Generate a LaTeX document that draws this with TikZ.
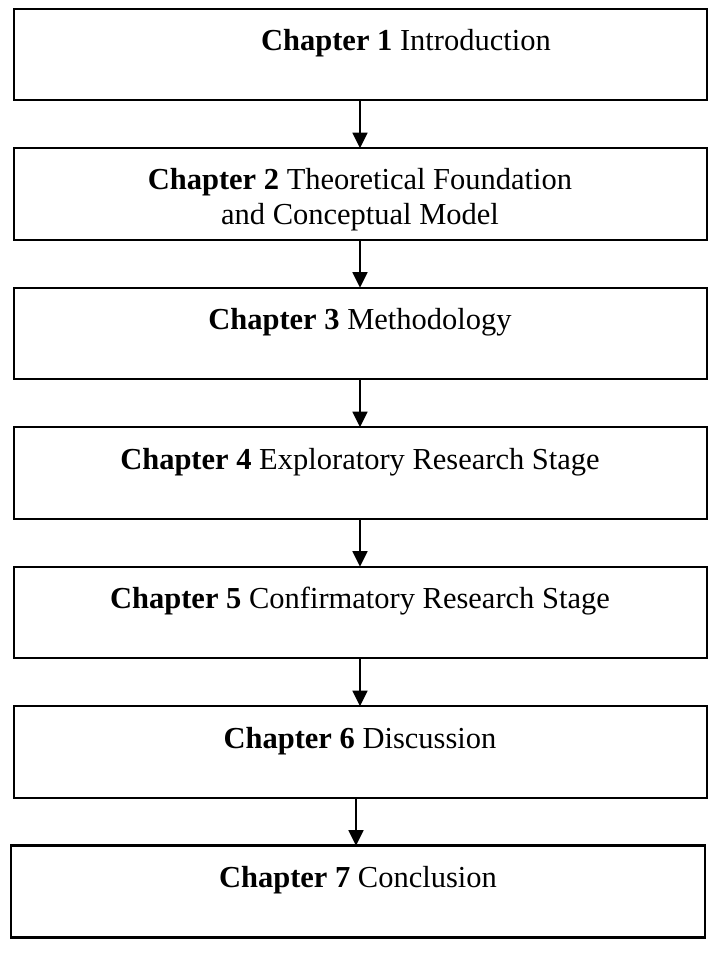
\documentclass[tikz,border=0pt]{standalone}
\usepackage{fontspec}
\setmainfont{Liberation Serif}
\usetikzlibrary{arrows.meta}
\begin{document}
\begin{tikzpicture}[x=1pt,y=-1pt,
  chbox/.style={draw=black,line width=2pt,minimum width=693pt,minimum height=91.7pt,
                inner sep=0pt,outer sep=0pt},
  chtext/.style={anchor=base,inner sep=0pt,font=\fontsize{30.5}{35.4}\selectfont},
  flow/.style={line width=1.7pt,-{Triangle[width=15pt,length=15.5pt]}}]
\useasboundingbox (0,0) rectangle (720,965);

% chapter frames
\node[chbox] (c1) at (360,54.55) {};
\node[chbox] (c2) at (360,194.05) {};
\node[chbox] (c3) at (360,333.55) {};
\node[chbox] (c4) at (360,473.05) {};
\node[chbox] (c5) at (360,612.55) {};
\node[chbox] (c6) at (360,752.05) {};
\node[chbox,line width=2.5pt,minimum width=694pt] (c7) at (358,891.55) {};

% chapter titles
\node[chtext] (t1) at (406,50.7) {\textbf{Chapter 1} Introduction};
\node[chtext] (t2a) at (360,189.4) {\textbf{Chapter 2} Theoretical Foundation};
\node[chtext] (t2b) at (360,224.8) {and Conceptual Model};
\node[chtext] (t3) at (360,329.7) {\textbf{Chapter 3} Methodology};
\node[chtext] (t4) at (360,469.2) {\textbf{Chapter 4} Exploratory Research Stage};
\node[chtext] (t5) at (360,608.7) {\textbf{Chapter 5} Confirmatory Research Stage};
\node[chtext] (t6) at (360,748.2) {\textbf{Chapter 6} Discussion};
\node[chtext] (t7) at (358,887.7) {\textbf{Chapter 7} Conclusion};

% flow between chapters
\draw[flow] (c1.south) -- (c2.north);
\draw[flow] (c2.south) -- (c3.north);
\draw[flow] (c3.south) -- (c4.north);
\draw[flow] (c4.south) -- (c5.north);
\draw[flow] (c5.south) -- (c6.north);
\draw[flow] ([xshift=-4pt]c6.south) -- ([xshift=-4pt]c6.south |- c7.north);
\end{tikzpicture}
\end{document}
